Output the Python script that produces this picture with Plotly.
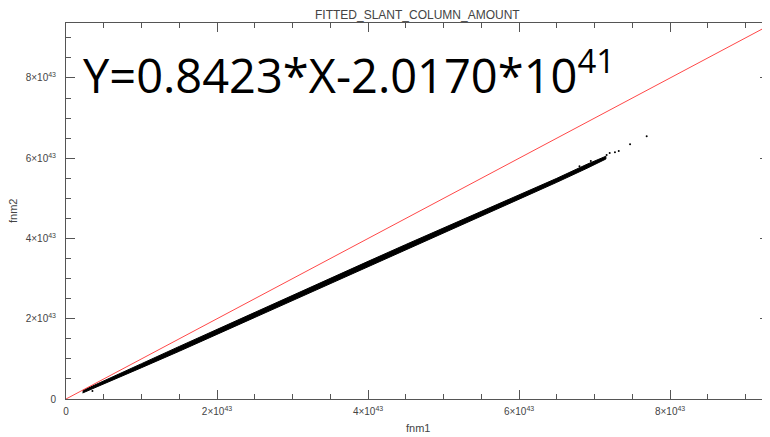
import plotly.graph_objects as go

# ---- data (units of 1e43) ----
E = 1e43
band_x  = [0.22, 0.5, 1.0, 1.5, 2.0, 2.5, 3.0, 3.5, 4.0, 4.5, 5.0, 5.5, 6.0, 6.5, 6.9, 7.15]
band_lo = [0.15, 0.37, 0.78, 1.19, 1.61, 2.03, 2.45, 2.87, 3.29, 3.71, 4.13, 4.55, 4.97, 5.40, 5.75, 5.98]
band_hi = [0.21, 0.45, 0.88, 1.31, 1.74, 2.17, 2.59, 3.01, 3.43, 3.85, 4.26, 4.68, 5.09, 5.50, 5.85, 6.05]

outlier_x = [7.16, 7.20, 7.27, 7.32, 7.47, 7.69, 6.95, 6.80, 0.30, 0.35]
outlier_y = [6.08, 6.13, 6.15, 6.18, 6.35, 6.55, 5.93, 5.80, 0.25, 0.20]

ref_x = [0.0, 9.4]
ref_y = [0.0, 9.4]

tick_vals = [0, 2, 4, 6, 8]
tick_text = ["0", "2×10<sup>43</sup>", "4×10<sup>43</sup>", "6×10<sup>43</sup>", "8×10<sup>43</sup>"]

x_range = [0, 9.31]
y_range = [0, 9.37]

title_text = "FITTED_SLANT_COLUMN_AMOUNT"
x_title = "fnm1"
y_title = "fnm2"
eq_text = "Y=0.8423*X-2.0170*10<sup>41</sup>"

# ---- figure ----
fig = go.Figure()

poly_x = [v * E for v in band_x] + [v * E for v in band_x[::-1]]
poly_y = [v * E for v in band_lo] + [v * E for v in band_hi[::-1]]
fig.add_trace(go.Scatter(x=poly_x, y=poly_y, mode="lines", fill="toself",
                         fillcolor="black", line=dict(color="black", width=1),
                         hoverinfo="skip", showlegend=False))
fig.add_trace(go.Scatter(x=[v * E for v in outlier_x], y=[v * E for v in outlier_y],
                         mode="markers", marker=dict(color="black", size=2),
                         showlegend=False))
fig.add_trace(go.Scatter(x=[v * E for v in ref_x], y=[v * E for v in ref_y],
                         mode="lines", line=dict(color="#ff4848", width=1),
                         showlegend=False))

axis_common = dict(
    showgrid=False, zeroline=False, showline=True, linecolor="#555", linewidth=1,
    mirror="ticks", ticks="inside", ticklen=9, tickwidth=1, tickcolor="#555",
    tickvals=[v * E for v in tick_vals], ticktext=tick_text,
    tickfont=dict(family="Liberation Sans", size=10, color="#444"),
    minor=dict(ticks="inside", ticklen=5, tickcolor="#555", dtick=0.5 * E, showgrid=False),
    automargin=False,
)

fig.update_xaxes(range=[x_range[0] * E, x_range[1] * E], ticklabelstandoff=3, **axis_common)
fig.update_yaxes(range=[y_range[0] * E, y_range[1] * E], ticklabelstandoff=7, **axis_common)

# page body has an 8px margin, so the figure is drawn 8px in from the top-left
fig.update_layout(
    width=762, height=429,
    margin=dict(l=58, r=1, t=15, b=38),
    plot_bgcolor="white", paper_bgcolor="white",
    showlegend=False,
    annotations=[
        dict(text=title_text, xref="paper", yref="paper", x=0.5, y=1, yshift=8,
             xanchor="center", yanchor="middle", showarrow=False,
             font=dict(family="Liberation Sans", size=12, color="#444")),
        dict(text=x_title, xref="paper", yref="paper", x=0.5, y=0, yshift=-29,
             xanchor="center", yanchor="middle", showarrow=False,
             font=dict(family="Liberation Sans", size=11, color="#444")),
        dict(text=y_title, xref="paper", yref="paper", x=0, xshift=-53, y=0.5,
             xanchor="center", yanchor="middle", showarrow=False, textangle=-90,
             font=dict(family="Liberation Sans", size=11, color="#444")),
        dict(text=eq_text, xref="paper", yref="paper", x=0.022, y=0.869,
             xanchor="left", yanchor="middle", showarrow=False,
             font=dict(family="Open Sans", size=47, color="black")),
    ],
)

fig.write_html("out.html")
